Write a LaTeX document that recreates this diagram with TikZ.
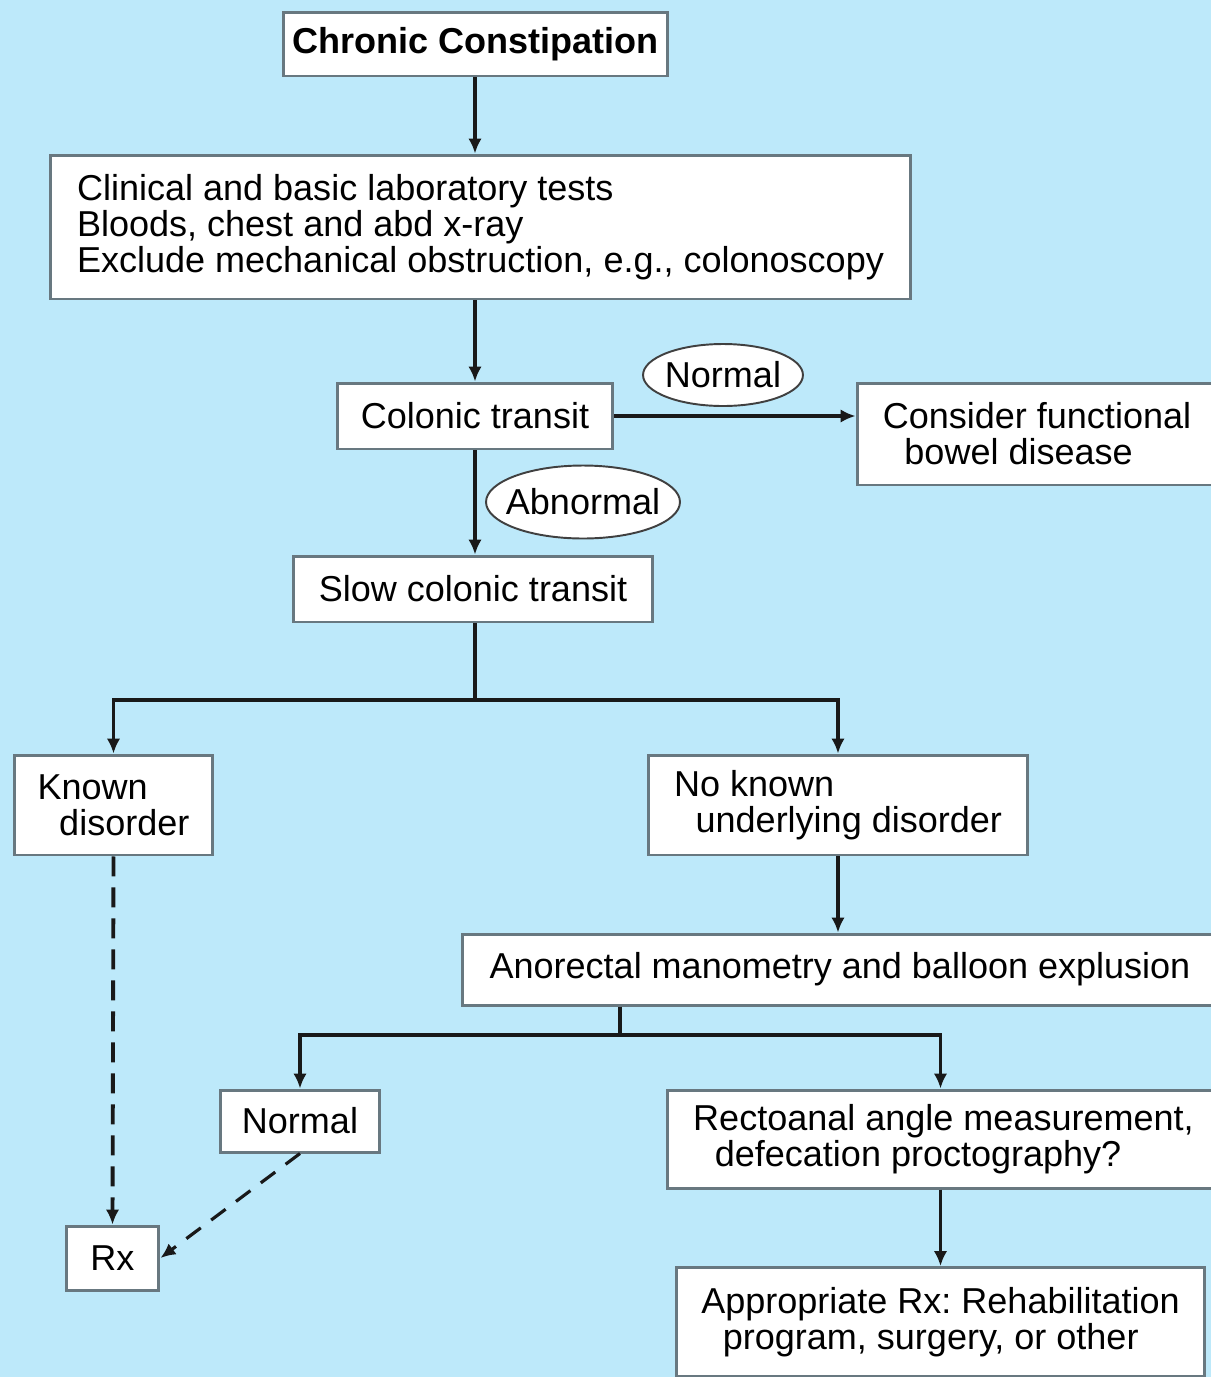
\documentclass[tikz,border=0pt]{standalone}
\usepackage{fontspec}
\setmainfont{Liberation Sans}
\usetikzlibrary{arrows.meta,shapes.geometric}
\definecolor{bgblue}{RGB}{189,233,250}
\definecolor{edgegray}{RGB}{104,120,128}
\begin{document}
\frenchspacing
\begin{tikzpicture}[x=0.02cm, y=-0.02cm,
      box/.style={draw=edgegray, fill=white, line width=1.7pt, align=left, inner sep=0pt,
                  font=\fontsize{20.5}{20.5}\selectfont},
      oval/.style={ellipse, draw=black!75, fill=white, line width=1.1pt, inner ysep=0pt,
                   font=\fontsize{20.5}{20.5}\selectfont},
      link/.style={line width=2.2pt, black!90, -{Latex[length=0.3cm,width=0.27cm]}},
      dlink/.style={link, dash pattern=on 0.4cm off 0.22cm}]
      \clip (0,0) rectangle (1211,1377);
      \fill[bgblue] (0,0) rectangle (1211,1377);
      % boxes
      \node[box, minimum width=7.7cm, minimum height=1.28cm, font=\fontsize{20.5}{20.5}\selectfont\bfseries]
          (chronic) at (475.5,44) {Chronic Constipation};
      \node[box, minimum width=17.22cm, minimum height=2.88cm] (clinical) at (480.5,227)
          {Clinical and basic laboratory tests\\Bloods, chest and abd x-ray\\Exclude mechanical obstruction, e.g., colonoscopy};
      \node[box, minimum width=5.52cm, minimum height=1.32cm] (colonic) at (475,416) {Colonic transit};
      \node[box, minimum width=7.2cm, minimum height=2.04cm] (consider) at (1037,434)
          {Consider functional\\\hspace*{0.6em}bowel disease};
      \node[box, minimum width=7.2cm, minimum height=1.32cm] (slow) at (473,589) {Slow colonic transit};
      \node[box, minimum width=3.98cm, minimum height=2cm] (known) at (113.5,805)
          {Known\\\hspace*{0.6em}disorder};
      \node[box, minimum width=7.6cm, minimum height=2cm] (noknown) at (838,805)
          {No known\\\hspace*{0.6em}underlying disorder};
      \node[box, minimum width=15.12cm, minimum height=1.42cm] (anorectal) at (840,969.5)
          {Anorectal manometry and balloon explusion};
      \node[box, minimum width=3.2cm, minimum height=1.24cm] (normal) at (300,1121) {Normal};
      \node[box, minimum width=11.06cm, minimum height=1.96cm] (rectoanal) at (943.5,1139)
          {Rectoanal angle measurement,\\\hspace*{0.6em}defecation proctography?};
      \node[box, minimum width=10.58cm, minimum height=2.18cm] (approp) at (940.5,1322)
          {Appropriate Rx: Rehabilitation\\\hspace*{0.6em}program, surgery, or other};
      \node[box, minimum width=1.86cm, minimum height=1.28cm] (rx) at (112.5,1258) {Rx};
      % connectors
      \draw[link] (chronic.south -| colonic.north) -- (clinical.north -| colonic.north);
      \draw[link] (clinical.south -| colonic.north) -- (colonic);
      \draw[link] (colonic) -- (consider.west |- colonic.east);
      \draw[link] (colonic) -- (slow.north -| colonic.south);
      \coordinate (split1) at (475,700);
      \draw[link, -] (slow.south -| split1) -- (split1);
      \draw[link] (split1) -| (known.north);
      \draw[link] (split1) -| (noknown.north);
      \draw[link] (noknown.south) -- (anorectal.north -| noknown.south);
      \coordinate (split2) at (620,1035);
      \draw[link, -] (anorectal.south -| split2) -- (split2);
      \draw[link] (split2) -| (normal.north);
      \draw[link] (split2) -| (rectoanal.north -| approp.north);
      \draw[link] (rectoanal.south -| approp.north) -- (approp.north);
      \draw[dlink] (known.south) -- (rx.north);
      \draw[dlink, line width=1.8pt, dash pattern=on 0.36cm off 0.26cm] (normal.south) -- (rx.east);
      % labels on the colonic transit split
      \node[oval, inner xsep=-0.03cm, minimum height=1.24cm] (lnormal) at (723,375) {Normal};
      \node[oval, inner xsep=-0.17cm, minimum height=1.46cm] (labnormal) at (583,502) {Abnormal};
\end{tikzpicture}
\end{document}
